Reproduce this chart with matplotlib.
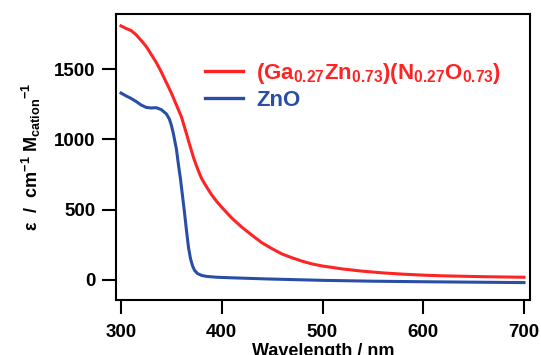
import numpy as np
import matplotlib
matplotlib.use("Agg")
import matplotlib.pyplot as plt

plt.rcParams['font.family'] = ['Liberation Sans', 'DejaVu Sans']
plt.rcParams['font.weight'] = 'bold'
plt.rcParams['mathtext.fontset'] = 'custom'
plt.rcParams['mathtext.rm'] = 'Liberation Sans:bold'
plt.rcParams['mathtext.it'] = 'Liberation Sans:bold'
plt.rcParams['mathtext.bf'] = 'Liberation Sans:bold'
plt.rcParams['mathtext.default'] = 'rm'

# GaZnON solid solution
wl_red = [300, 305, 310, 315, 320, 325, 330, 335, 340, 345, 350, 355, 360, 365, 368,
          372, 375, 378, 380, 383, 386, 390, 395, 400, 410, 420, 430, 440, 450, 460, 470,
          480, 490, 500, 520, 540, 560, 580, 600, 620, 640, 660, 680, 700]
eps_red = [1808, 1790, 1775, 1745, 1705, 1662, 1605, 1548, 1480, 1405, 1330, 1245, 1160,
           1040, 965, 870, 810, 755, 722, 685, 650, 605, 558, 517, 440, 375, 318, 264,
           222, 184, 157, 133, 113, 99, 78, 62, 50, 41, 34, 29, 26, 23, 21, 19]

# ZnO
wl_blue = [300, 305, 310, 315, 320, 325, 330, 335, 340, 345, 348, 350, 352, 355, 357,
           359, 361, 363, 365, 367, 369, 371, 373, 376, 380, 385, 395, 410, 445, 500,
           550, 600, 650, 700]
eps_blue = [1330, 1310, 1292, 1270, 1245, 1228, 1224, 1226, 1212, 1182, 1145, 1100,
            1040, 930, 820, 720, 600, 480, 350, 230, 150, 100, 68, 45, 32, 25, 19, 15,
            7, -3, -9, -13, -16, -19]

lbl_red = r'(Ga$_{0.27}$Zn$_{0.73}$)(N$_{0.27}$O$_{0.73}$)'
lbl_blue = 'ZnO'

fig = plt.figure(figsize=(5.41, 3.55), dpi=100)
ax = fig.add_axes([0.2144, 0.1549, 0.7653, 0.8057])

ax.plot(wl_red, eps_red, color='#fe2424', lw=2.2, label=lbl_red)
ax.plot(wl_blue, eps_blue, color='#2a4ea6', lw=2.2, label=lbl_blue)

ax.set_xlim(295, 706)
ax.set_ylim(-143, 1893)
ax.set_xticks([300, 400, 500, 600, 700])
ax.set_yticks([0, 500, 1000, 1500])

for s in ax.spines.values():
    s.set_linewidth(1.5)
ax.tick_params(axis='both', direction='out', length=10, width=1.5,
               labelsize=13.5, pad=5)
ax.tick_params(axis='x', pad=7)
for t in ax.get_xticklabels() + ax.get_yticklabels():
    t.set_fontweight('bold')

ax.set_xlabel('Wavelength / nm', fontsize=13, fontweight='bold', labelpad=2)
ax.set_ylabel(r'$\epsilon$  /  cm$^{-1}$ M$_{cation}$$^{-1}$', fontsize=13,
              fontweight='bold', labelpad=8)

leg = ax.legend(loc='upper left', bbox_to_anchor=(0.215, 0.835), frameon=False,
                borderpad=0, borderaxespad=0, handlelength=1.7, handletextpad=0.6,
                labelspacing=0.15, labelcolor='linecolor',
                prop={'weight': 'bold', 'size': 16})
for h in leg.get_lines():
    h.set_linewidth(2.4)

fig.savefig('out.png', dpi=100)
